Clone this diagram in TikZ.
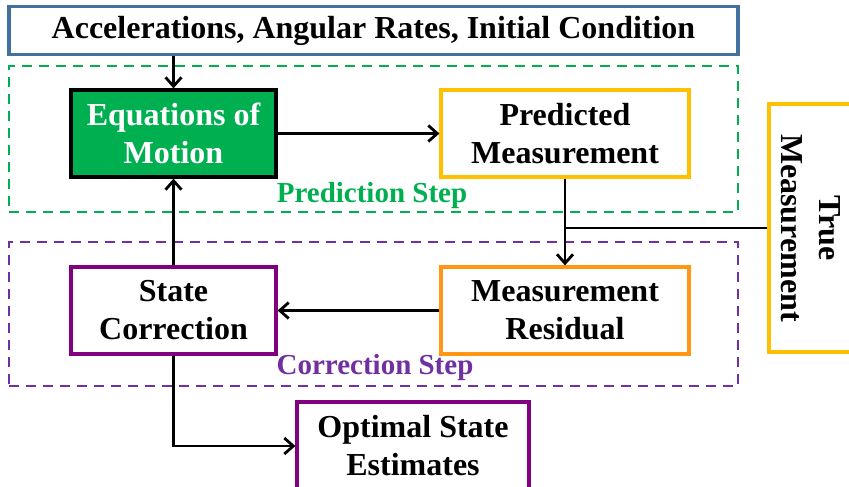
\documentclass[tikz,border=0pt]{standalone}
\usepackage{fontspec}
\setmainfont{Liberation Serif}
\usetikzlibrary{arrows.meta, positioning, calc}

\definecolor{inputblue}{RGB}{65,113,156}
\definecolor{predgreen}{RGB}{0,176,80}
\definecolor{measyellow}{RGB}{255,192,0}
\definecolor{resorange}{RGB}{255,150,20}
\definecolor{corrpurple}{RGB}{112,48,160}
\definecolor{boxpurple}{RGB}{128,0,128}

\begin{document}
\begin{tikzpicture}[
      x=0.5pt, y=-0.5pt,
      block/.style={rectangle, draw, line width=1.6pt, align=center, inner sep=0pt, font=\fontsize{16}{19}\selectfont\bfseries},
      group/.style={rectangle, draw, line width=1.3pt, dash pattern=on 5pt off 3.5pt, inner sep=0pt},
      steplabel/.style={font=\fontsize{14.5}{17}\selectfont\bfseries},
      arrow/.style={-{Straight Barb[length=4.5pt, width=8pt]}, line width=1.4pt}
    ]
    \useasboundingbox (0,0) rectangle (849,486);
    \clip (0,0) rectangle (849,486);

    \node[group, predgreen, minimum width=364.5pt, minimum height=73pt] (predgroup) at (373.5,139) {};
    \node[group, corrpurple, minimum width=364.5pt, minimum height=72pt] (corrgroup) at (373.5,314) {};

    \node[block, inputblue, text=black, minimum width=364.5pt, minimum height=24pt] (inputs) at (373.5,30.5) {Accelerations, Angular Rates, Initial Condition};
    \node[block, fill=predgreen, text=white, minimum width=102.5pt, minimum height=43.5pt] (eom) at (173.5,133.5) {Equations of\\Motion};
    \node[block, measyellow, text=black, minimum width=124pt, minimum height=43.5pt] (predmeas) at (565,133.5) {Predicted\\Measurement};
    \node[block, measyellow, text=black, rotate=-90, minimum width=124pt, minimum height=42pt] (truemeas) at (811,228) {True\\Measurement};
    \node[block, boxpurple, text=black, minimum width=102.5pt, minimum height=43.5pt] (statecorr) at (173.5,310.5) {State\\Correction};
    \node[block, resorange, text=black, minimum width=124pt, minimum height=43.5pt] (residual) at (565,310.5) {Measurement\\Residual};
    \node[block, boxpurple, text=black, minimum width=116pt, minimum height=44pt] (optimal) at (413,446) {Optimal State\\Estimates};

    \node[steplabel, predgreen] (predlabel) at (372,196) {Prediction Step};
    \node[steplabel, corrpurple] (corrlabel) at (375,368) {Correction Step};

    \draw[arrow] (eom.north |- inputs.south) -- (eom.north);
    \draw[arrow] (eom) -- (predmeas);
    \draw[arrow] (predmeas.south) -- (residual.north);
    \draw[line width=1.4pt] (truemeas.south) -- (predmeas.south |- truemeas.south);
    \draw[arrow] (residual) -- (statecorr);
    \draw[arrow] (statecorr) -- (eom);
    \draw[arrow] (statecorr.south) |- (optimal.west);
  \end{tikzpicture}
\end{document}
